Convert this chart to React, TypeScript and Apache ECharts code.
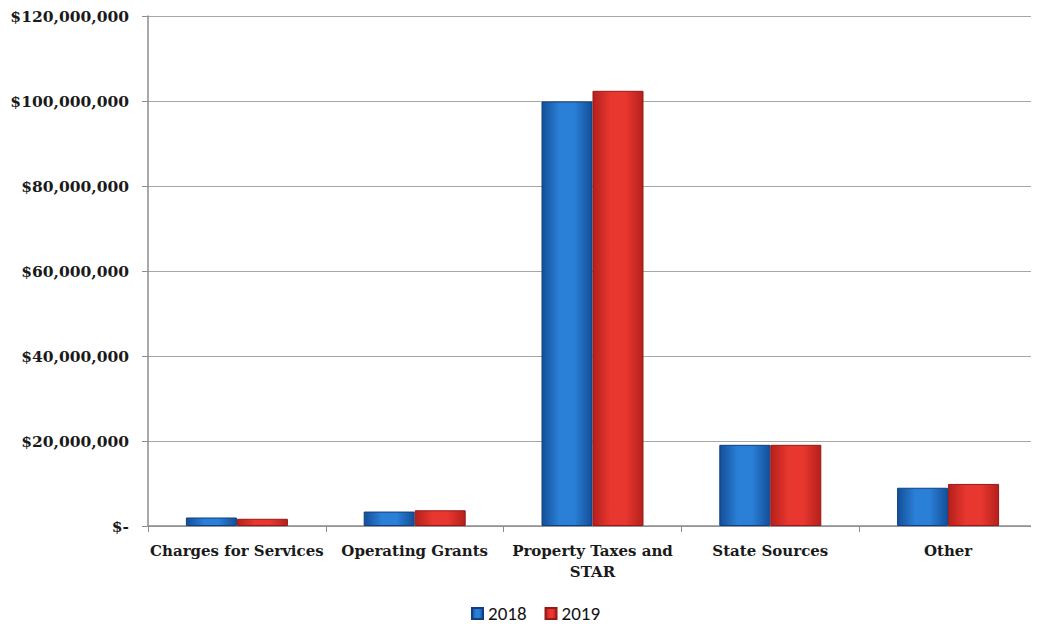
import React, { useEffect, useRef } from "react";
import * as echarts from "echarts";

const categories = ["Charges for Services", "Operating Grants", "Property Taxes and\nSTAR", "State Sources", "Other"];
const series2018 = [2000000, 3400000, 99900000, 19100000, 9000000];
const series2019 = [1700000, 3700000, 102400000, 19100000, 9900000];
const seriesNames = ["2018", "2019"];

const grad = (edge: string, mid: string) =>
  new echarts.graphic.LinearGradient(0, 0, 1, 0, [
    { offset: 0, color: edge },
    { offset: 0.35, color: mid },
    { offset: 0.65, color: mid },
    { offset: 1, color: edge },
  ]);

export default function App() {
  const ref = useRef<HTMLDivElement>(null);
  useEffect(() => {
    const chart = echarts.init(ref.current!, null, { renderer: "svg" });
    chart.setOption({
      animation: false,
      backgroundColor: "#ffffff",
      grid: { left: 148, top: 16, right: 2, bottom: 98 },
      legend: {
        top: 599,
        left: 466,
        itemWidth: 11,
        itemHeight: 11,
        itemGap: 18,
        icon: "rect",
        textStyle: { fontFamily: "Carlito, 'Open Sans', sans-serif", fontSize: 19, color: "#111" },
        data: seriesNames,
      },
      xAxis: {
        type: "category",
        data: categories,
        axisLine: { lineStyle: { color: "#8c8c8c", width: 1.5 } },
        axisTick: { show: true, length: 6, lineStyle: { color: "#8c8c8c" } },
        axisLabel: {
          interval: 0,
          margin: 14,
          fontFamily: "'DejaVu Serif', 'Liberation Serif', serif",
          fontWeight: "bold",
          fontSize: 15,
          color: "#1a1a1a",
          lineHeight: 21,
        },
      },
      yAxis: {
        type: "value",
        min: 0,
        max: 120000000,
        interval: 20000000,
        axisLine: { show: true, lineStyle: { color: "#8c8c8c", width: 1.5 } },
        axisTick: { show: true, length: 6, lineStyle: { color: "#8c8c8c" } },
        splitLine: { lineStyle: { color: "#a6a6a6", width: 1 } },
        axisLabel: {
          margin: 19,
          fontFamily: "'DejaVu Serif', 'Liberation Serif', serif",
          fontWeight: "bold",
          fontSize: 15.5,
          color: "#1a1a1a",
          formatter: (v: number) => (v === 0 ? "$-" : "$" + v.toLocaleString("en-US")),
        },
      },
      series: [
        {
          name: seriesNames[0],
          type: "bar",
          data: series2018,
          barWidth: 51,
          barGap: "0%",
          itemStyle: { color: grad("#134f99", "#2a7fd6"), borderColor: "#0f3f80", borderWidth: 1 },
        },
        {
          name: seriesNames[1],
          type: "bar",
          data: series2019,
          barWidth: 51,
          barGap: "0%",
          itemStyle: { color: grad("#b5201c", "#e8372f"), borderColor: "#951a16", borderWidth: 1 },
        },
      ],
    });
    return () => chart.dispose();
  }, []);
  return <div ref={ref} style={{ width: 1039, height: 624, marginLeft: -8, marginTop: -8 }} />;
}
